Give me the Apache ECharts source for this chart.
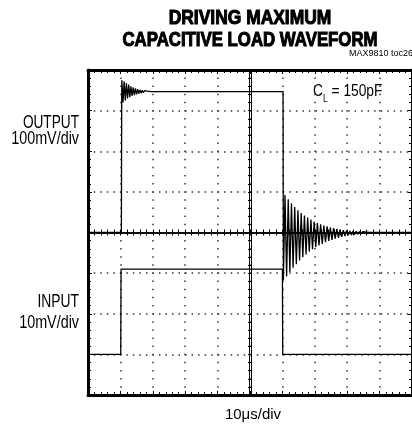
<!DOCTYPE html>
<html>
<head>
<meta charset="utf-8">
<script src="https://cdn.jsdelivr.net/npm/echarts@6/dist/echarts.min.js"></script>
<style>
  html, body { margin: 0; padding: 0; background: #fff; }
  #chart { width: 412px; height: 429px; }
</style>
</head>
<body>
<div id="chart"></div>
<script>
// time in microseconds (10us/div), amplitude in divisions (center line = 0)
const xTicks = [0, 100, 10];
const yTicks = [-4, 4, 1];

// OUTPUT trace: step up at ~10us with ringing, step down at ~60us with heavy ringing
const outputRise = [
  [0, 0], [10.3, 0], [10.4, 3.3], [10.45, 3.75], [10.8, 3.2], [11.15, 3.72], [11.5, 3.25],
  [11.85, 3.68], [12.2, 3.3], [12.55, 3.64], [12.9, 3.33], [13.25, 3.6], [13.6, 3.36],
  [13.95, 3.57], [14.3, 3.38], [14.65, 3.55], [15.0, 3.4], [15.35, 3.53], [15.7, 3.42],
  [16.05, 3.51], [16.4, 3.43], [16.75, 3.5], [17.1, 3.44], [17.45, 3.49], [17.8, 3.45],
  [18.3, 3.48], [18.8, 3.46], [19.5, 3.47], [60.2, 3.47]
];
const outputFall = [
  [60.3, -1.17], [60.8, 0.92], [61.3, -1.08], [61.8, 0.82], [62.3, -0.97], [62.8, 0.72],
  [63.3, -0.87], [63.8, 0.63], [64.3, -0.78], [64.8, 0.55], [65.3, -0.69], [65.8, 0.48],
  [66.3, -0.61], [66.8, 0.42], [67.3, -0.54], [67.8, 0.37], [68.3, -0.47], [68.8, 0.32],
  [69.3, -0.41], [69.8, 0.27], [70.3, -0.36], [70.8, 0.23], [71.3, -0.32], [71.8, 0.2],
  [72.3, -0.28], [72.8, 0.17], [73.3, -0.24], [73.8, 0.15], [74.3, -0.21], [74.8, 0.13],
  [75.3, -0.18], [75.8, 0.11], [76.3, -0.15], [76.8, 0.09], [77.3, -0.13], [77.8, 0.07],
  [78.3, -0.11], [78.8, 0.06], [79.3, -0.09], [79.8, 0.05], [80.3, -0.07], [80.8, 0.04],
  [81.3, -0.06], [81.8, 0.03], [82.3, -0.05], [82.8, 0.03], [83.3, -0.04], [83.8, 0.02],
  [84.3, -0.03], [84.8, 0.02], [85.3, -0.02], [86, 0.01], [87, 0], [100, 0]
];
// INPUT trace: square pulse
const inputTrace = [[0, -3], [10.1, -3], [10.2, -0.9], [60.0, -0.9], [60.1, -3], [100, -3]];

const chart = echarts.init(document.getElementById("chart"), null, { renderer: "canvas" });

const sans = '"Liberation Sans", Arial, sans-serif';
const black = "#000";
const dotColor = "#333";

const borderX = (pos) => ({
  gridIndex: 0, type: "value", position: pos,
  min: xTicks[0], max: xTicks[1], interval: xTicks[2],
  axisLine: { show: true, onZero: false, lineStyle: { color: black, width: 3 } },
  axisTick: { show: true, inside: true, length: 4, lineStyle: { color: black, width: 1 } },
  minorTick: { show: true, splitNumber: 5, length: 3, lineStyle: { color: black, width: 1 } },
  axisLabel: { show: false },
  splitLine: pos === "bottom"
    ? { show: true, lineStyle: { color: dotColor, width: 1.5, type: [1.5, 6.625], dashOffset: 0.75 } }
    : { show: false },
});
const borderY = (pos) => ({
  gridIndex: 0, type: "value", position: pos,
  min: yTicks[0], max: yTicks[1], interval: yTicks[2],
  axisLine: { show: true, onZero: false, lineStyle: { color: black, width: 3 } },
  axisTick: { show: true, inside: true, length: 4, lineStyle: { color: black, width: 1 } },
  minorTick: { show: true, splitNumber: 5, length: 3, lineStyle: { color: black, width: 1 } },
  axisLabel: { show: false },
  splitLine: pos === "left"
    ? { show: true, lineStyle: { color: dotColor, width: 1.5, type: [1.5, 5.02], dashOffset: 0.75 } }
    : { show: false },
});
const centerX = (pos) => ({
  gridIndex: 1, type: "value", position: pos, offset: -162.5,
  min: xTicks[0], max: xTicks[1], interval: xTicks[2],
  axisLine: { show: true, onZero: false, lineStyle: { color: black, width: 1.5 } },
  axisTick: { show: true, inside: false, length: 3, lineStyle: { color: black, width: 1 } },
  minorTick: { show: true, splitNumber: 5, length: 3, lineStyle: { color: black, width: 1 } },
  axisLabel: { show: false },
  splitLine: { show: false },
});
const centerY = (pos) => ({
  gridIndex: 1, type: "value", position: pos, offset: -163,
  min: yTicks[0], max: yTicks[1], interval: yTicks[2],
  axisLine: { show: true, onZero: false, lineStyle: { color: black, width: 1 } },
  axisTick: { show: true, inside: false, length: 3, lineStyle: { color: black, width: 1 } },
  minorTick: { show: true, splitNumber: 5, length: 3, lineStyle: { color: black, width: 1 } },
  axisLabel: { show: false },
  splitLine: { show: false },
});

// condensed look is faked with a horizontal squeeze of Liberation Sans
const text = (x, y, str, font, align, sx, bold) => ({
  type: "text", x: x, y: y, scaleX: sx, silent: true,
  style: {
    text: str, font: font, fill: black, align: align, verticalAlign: "middle",
    stroke: bold ? black : null, lineWidth: bold ? 1.1 : 0,
  },
});

const options = {
  animation: false,
  backgroundColor: "#fff",
  grid: [
    { left: 88, top: 70, width: 326, height: 325 },
    { left: 88, top: 70, width: 326, height: 325 },
  ],
  xAxis: [borderX("bottom"), borderX("top"), centerX("bottom"), centerX("top")],
  yAxis: [borderY("left"), borderY("right"), centerY("left"), centerY("right")],
  series: [
    {
      name: "OUTPUT", type: "line", xAxisIndex: 0, yAxisIndex: 0,
      data: outputRise.concat(outputFall),
      showSymbol: false, lineStyle: { color: black, width: 1.3 },
    },
    {
      name: "INPUT", type: "line", xAxisIndex: 0, yAxisIndex: 0,
      data: inputTrace,
      showSymbol: false, lineStyle: { color: black, width: 1.3 },
    },
  ],
  graphic: [
    text(250, 18, "DRIVING MAXIMUM", "bold 21px " + sans, "center", 0.83, true),
    text(250, 40, "CAPACITIVE LOAD WAVEFORM", "bold 21px " + sans, "center", 0.8, true),
    text(349, 53.5, "MAX9810 toc26", "9px " + sans, "left", 1),
    text(79, 123, "OUTPUT", "17.5px " + sans, "right", 0.78),
    text(79, 139.5, "100mV/div", "17.5px " + sans, "right", 0.82),
    text(79, 302, "INPUT", "17.5px " + sans, "right", 0.79),
    text(79, 323.5, "10mV/div", "17.5px " + sans, "right", 0.82),
    text(253, 415, "10μs/div", "15px " + sans, "center", 1),
    {
      type: "text", x: 313, y: 92, scaleX: 0.86, silent: true,
      style: {
        text: "{a|C}{b|L}{a| = 150pF}",
        align: "left", verticalAlign: "middle", fill: black,
        rich: {
          a: { fontSize: 16, fontFamily: sans, lineHeight: 18, verticalAlign: "middle" },
          b: { fontSize: 10, fontFamily: sans, lineHeight: 18, verticalAlign: "bottom", padding: [0, 0, -3, 0] },
        },
      },
    },
  ],
};

chart.setOption(options);
</script>
</body>
</html>
